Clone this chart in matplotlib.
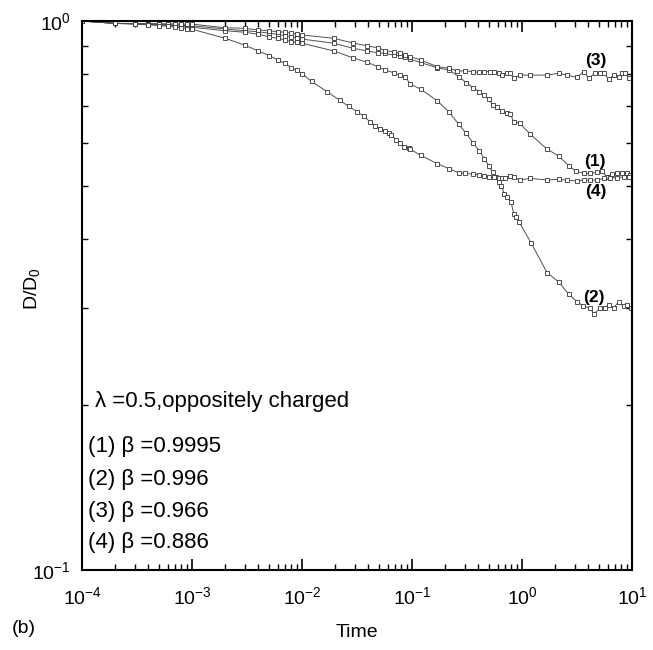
import matplotlib
matplotlib.use("Agg")
import matplotlib.pyplot as plt
from matplotlib.ticker import LogLocator, NullFormatter, LogFormatterSciNotation

plt.rcParams['font.family'] = ['Liberation Sans', 'DejaVu Sans']
plt.rcParams['mathtext.fontset'] = 'custom'
plt.rcParams['mathtext.rm'] = 'Liberation Sans'
plt.rcParams['mathtext.it'] = 'Liberation Sans:italic'
plt.rcParams['mathtext.default'] = 'regular'

# ---------------- data ----------------
x_early = [1e-4, 2e-4, 3e-4, 4e-4, 5e-4, 6e-4, 7e-4, 8e-4, 9e-4, 1e-3]
x_mid = [2e-3, 3e-3, 4e-3, 5e-3, 6e-3, 7e-3, 8e-3, 9e-3, 1e-2, 0.0194, 0.029, 0.039, 0.0486]

# curve (1) beta = 0.9995
x1 = x_early + x_mid + [0.057, 0.068, 0.077, 0.087, 0.0965, 0.12, 0.169, 0.218, 0.265, 0.311,
                        0.358, 0.409, 0.454, 0.498, 0.545, 0.592, 0.657, 0.730, 0.783, 0.839,
                        0.951, 1.19, 1.69, 2.15, 2.65, 3.11, 3.63, 4.17, 4.80, 5.33,
                        5.92, 6.57, 7.30, 8.11, 9.0, 9.64]
y1 = [1.0, 0.990, 0.989, 0.988, 0.986, 0.985, 0.984, 0.982, 0.981, 0.980,
      0.967, 0.960, 0.956, 0.950, 0.946, 0.940, 0.936, 0.932, 0.927, 0.911, 0.892, 0.882, 0.875,
      0.873, 0.867, 0.864, 0.859, 0.852, 0.840, 0.822, 0.814, 0.792, 0.772,
      0.756, 0.744, 0.733, 0.721, 0.703, 0.696, 0.686, 0.679, 0.677, 0.656,
      0.651, 0.622, 0.584, 0.568, 0.545, 0.532, 0.528, 0.528, 0.530, 0.532,
      0.520, 0.526, 0.528, 0.529, 0.528, 0.524]

# curve (2) beta = 0.996
x2 = x_early + x_mid + [0.057, 0.068, 0.077, 0.087, 0.0965, 0.12, 0.169, 0.218, 0.265, 0.311,
                        0.358, 0.409, 0.454, 0.498, 0.545, 0.579, 0.612, 0.65, 0.69, 0.73,
                        0.794, 0.839, 0.887, 0.938, 1.21, 1.69, 2.18, 2.65, 3.16, 3.58,
                        4.12, 4.54, 5.15, 5.71, 6.13, 6.80, 7.55, 8.39, 9.0, 9.79]
y2 = [1.0, 0.990, 0.988, 0.986, 0.984, 0.982, 0.980, 0.978, 0.976, 0.974,
      0.960, 0.954, 0.946, 0.936, 0.930, 0.923, 0.917, 0.915, 0.911, 0.882, 0.857, 0.841, 0.826,
      0.814, 0.805, 0.797, 0.790, 0.768, 0.751, 0.716, 0.682, 0.649, 0.624,
      0.600, 0.580, 0.561, 0.545, 0.530, 0.520, 0.508, 0.500, 0.485, 0.477,
      0.469, 0.446, 0.439, 0.431, 0.394, 0.348, 0.334, 0.318, 0.308, 0.303,
      0.300, 0.293, 0.300, 0.300, 0.304, 0.300, 0.308, 0.302, 0.304, 0.300]

# curve (3) beta = 0.966
x3 = x_early + x_mid + [0.057, 0.068, 0.077, 0.087, 0.0965, 0.12, 0.169, 0.218, 0.256, 0.305,
                        0.358, 0.403, 0.448, 0.508, 0.552, 0.612, 0.657, 0.730, 0.783, 0.839,
                        0.951, 1.19, 1.69, 2.15, 2.56, 3.16, 3.63, 4.03, 4.64, 5.15,
                        5.52, 6.13, 6.80, 7.55, 8.11, 8.69, 9.31]
y3 = [1.0, 0.990, 0.990, 0.989, 0.989, 0.988, 0.988, 0.987, 0.987, 0.987,
      0.972, 0.970, 0.963, 0.960, 0.956, 0.954, 0.950, 0.946, 0.943, 0.930, 0.912, 0.901, 0.894,
      0.883, 0.879, 0.873, 0.867, 0.861, 0.849, 0.826, 0.820, 0.811, 0.811,
      0.809, 0.806, 0.809, 0.809, 0.809, 0.803, 0.797, 0.805, 0.803, 0.786,
      0.797, 0.797, 0.797, 0.803, 0.797, 0.789, 0.809, 0.786, 0.805, 0.805,
      0.805, 0.783, 0.797, 0.792, 0.805, 0.805, 0.786]

# curve (4) beta = 0.886
x4 = x_early + [2e-3, 3e-3, 4e-3, 5e-3, 6e-3, 7e-3, 8e-3, 9e-3, 1e-2, 0.0122, 0.017, 0.022,
                0.0266, 0.0316, 0.0364, 0.0412, 0.0463, 0.0515, 0.0564, 0.0613, 0.0648, 0.072,
                0.0782, 0.0851, 0.0931, 0.0964, 0.1205, 0.1686, 0.218, 0.265, 0.305, 0.356,
                0.403, 0.448, 0.498, 0.552, 0.612, 0.657, 0.705, 0.783, 0.839, 0.951,
                1.19, 1.69, 2.15, 2.56, 3.16, 3.63, 4.17, 4.80, 5.52, 6.35, 7.30, 8.39, 9.31]
y4 = [1.0, 0.990, 0.987, 0.984, 0.981, 0.978, 0.975, 0.972, 0.969, 0.966,
      0.930, 0.904, 0.882, 0.865, 0.850, 0.837, 0.822, 0.813, 0.802, 0.776, 0.743, 0.717,
      0.699, 0.684, 0.671, 0.656, 0.645, 0.635, 0.630, 0.626, 0.620, 0.607,
      0.600, 0.590, 0.588, 0.584, 0.569, 0.550, 0.538, 0.529, 0.528, 0.526,
      0.525, 0.523, 0.520, 0.519, 0.517, 0.517, 0.517, 0.523, 0.520, 0.513,
      0.517, 0.513, 0.515, 0.513, 0.511, 0.513, 0.513, 0.513, 0.517, 0.518, 0.518, 0.520, 0.520]

curve_labels = ["(1)", "(2)", "(3)", "(4)"]
label_pos = [(4.64, 0.554), (4.48, 0.313), (4.73, 0.849), (4.64, 0.489)]
legend_lines = ["\u03bb =0.5,oppositely charged",
                "(1) \u03b2 =0.9995", "(2) \u03b2 =0.996", "(3) \u03b2 =0.966", "(4) \u03b2 =0.886"]

# ---------------- plot ----------------
fig = plt.figure(figsize=(6.53, 6.5), dpi=100)
ax = fig.add_axes([0.1256, 0.1231, 0.8423, 0.8446])

style = dict(color='#505050', lw=0.7, marker='s', ms=3.4, mfc='white', mec='#333333', mew=0.6)
for xs, ys in [(x1, y1), (x2, y2), (x3, y3), (x4, y4)]:
    ax.plot(xs, ys, **style)

ax.set_xscale('log')
ax.set_yscale('log')
ax.set_xlim(1e-4, 10)
ax.set_ylim(0.1, 1)

ax.xaxis.set_major_locator(LogLocator(base=10, numticks=10))
ax.xaxis.set_minor_locator(LogLocator(base=10, subs=range(2, 10), numticks=20))
ax.yaxis.set_major_locator(LogLocator(base=10, numticks=10))
ax.yaxis.set_minor_locator(LogLocator(base=10, subs=range(2, 10), numticks=20))
ax.xaxis.set_minor_formatter(NullFormatter())
ax.yaxis.set_minor_formatter(NullFormatter())
ax.xaxis.set_major_formatter(LogFormatterSciNotation())
ax.yaxis.set_major_formatter(LogFormatterSciNotation())

ax.tick_params(which='both', direction='in', top=True, right=True, labelsize=14, colors='black')
ax.tick_params(which='major', length=8, width=1.2)
ax.tick_params(which='minor', length=4, width=1.0)
ax.tick_params(axis='x', which='major', pad=12)
ax.tick_params(axis='y', which='major', pad=8)
for sp in ax.spines.values():
    sp.set_linewidth(1.5)

ax.set_xlabel('Time', fontsize=14, labelpad=11)
ax.set_ylabel('D/D$_0$', fontsize=14)
ax.yaxis.set_label_coords(-0.072, 0.512)

for lab, (lx, ly) in zip(curve_labels, label_pos):
    ax.text(lx, ly, lab, fontsize=12.5, fontweight='bold', ha='center', va='center')

ax.text(0.024, 0.307, legend_lines[0], transform=ax.transAxes, fontsize=16, ha='left', va='center')
ys_leg = [0.2247, 0.164, 0.1064, 0.0492]
for t, yy in zip(legend_lines[1:], ys_leg):
    ax.text(0.011, yy, t, transform=ax.transAxes, fontsize=16, ha='left', va='center')

fig.text(0.018, 0.033, '(b)', fontsize=14, ha='left', va='center')

fig.savefig('out.png', dpi=100)
